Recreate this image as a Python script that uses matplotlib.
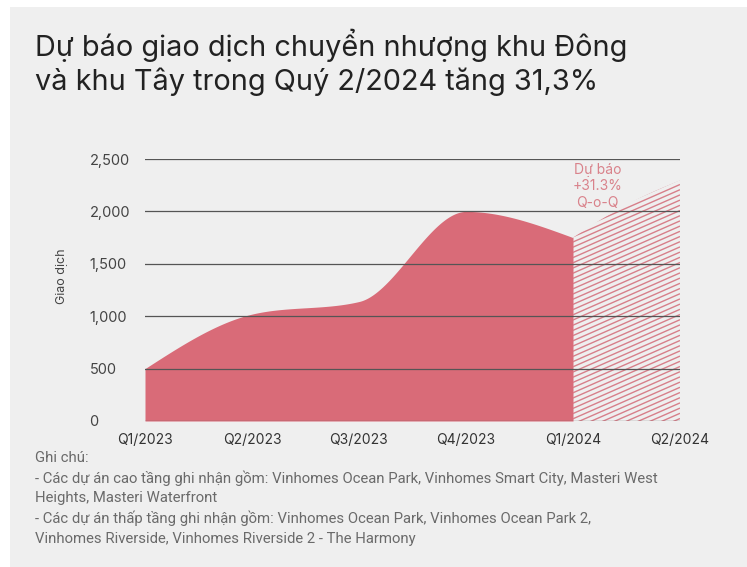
import numpy as np
import matplotlib
matplotlib.use("Agg")
import matplotlib.pyplot as plt
from matplotlib.patches import Rectangle, Polygon
from matplotlib.collections import LineCollection

quarters = ["Q1/2023", "Q2/2023", "Q3/2023", "Q4/2023", "Q1/2024", "Q2/2024"]
actual = [500, 1020, 1140, 2000, 1750]
forecast = [1750, 2295]
y_ticks = [0, 500, 1000, 1500, 2000, 2500]
y_tick_labels = ["0", "500", "1,000", "1,500", "2,000", "2,500"]

title = "Dự báo giao dịch chuyển nhượng khu Đông\nvà khu Tây trong Quý 2/2024 tăng 31,3%"
notes = [
    "Ghi chú:",
    "- Các dự án cao tầng ghi nhận gồm: Vinhomes Ocean Park, Vinhomes Smart City, Masteri West",
    "Heights, Masteri Waterfront",
    "- Các dự án thấp tầng ghi nhận gồm: Vinhomes Ocean Park, Vinhomes Ocean Park 2,",
    "Vinhomes Riverside, Vinhomes Riverside 2 - The Harmony",
]

BG = "#efefef"
PINK = "#d96b78"
HATCH = "#d77f8a"


def monotone(x, y, xs):
    # monotone cubic like d3.curveMonotoneX, no overshoot at the peak
    x = np.asarray(x, float)
    y = np.asarray(y, float)
    h = np.diff(x)
    d = np.diff(y) / h
    m = np.zeros_like(y)
    for k in range(1, len(y) - 1):
        p = (d[k - 1] * h[k] + d[k] * h[k - 1]) / (h[k - 1] + h[k])
        m[k] = (np.sign(d[k - 1]) + np.sign(d[k])) * min(abs(d[k - 1]), abs(d[k]), 0.5 * abs(p))
    m[0] = (3 * d[0] - m[1]) / 2
    m[-1] = (3 * d[-1] - m[-2]) / 2
    idx = np.clip(np.searchsorted(x, xs) - 1, 0, len(x) - 2)
    t = (xs - x[idx]) / h[idx]
    h00 = 2 * t**3 - 3 * t**2 + 1
    h10 = t**3 - 2 * t**2 + t
    h01 = -2 * t**3 + 3 * t**2
    h11 = t**3 - t**2
    return (h00 * y[idx] + h10 * h[idx] * m[idx]
            + h01 * y[idx + 1] + h11 * h[idx] * m[idx + 1])


fig = plt.figure(figsize=(7.47, 5.67), dpi=100)
fig.patch.set_facecolor("white")
fig.patches.append(Rectangle((10 / 747, 0), 1, 1 - 7 / 567,
                             transform=fig.transFigure, facecolor=BG,
                             edgecolor="none", zorder=-10))

ax = fig.add_axes([145 / 747, 1 - 421 / 567, 535 / 747, 262 / 567])
ax.set_facecolor("none")

xa = np.arange(len(actual))
xs = np.linspace(0, len(actual) - 1, 400)
ax.fill_between(xs, 0, monotone(xa, actual, xs), color=PINK, lw=0, zorder=1)

# forecast segment, hatched by hand so the slant matches
xf = np.array([len(actual) - 1, len(actual)], float)
xfs = np.linspace(xf[0], xf[1], 100)
yfs = forecast[0] + (forecast[1] - forecast[0]) * (xfs - xf[0]) + 40 * np.sin(np.pi * (xfs - xf[0]))
poly = Polygon(np.column_stack([np.r_[xfs, xf[1], xf[0]], np.r_[yfs, 0, 0]]),
               closed=True, facecolor="none", edgecolor="none")
ax.add_patch(poly)
slope = 0.44 * 535 / 262
segs = [[(0, c), (1, c + slope)] for c in np.arange(-slope - 0.05, 1.05, 5.2 / 262)]
lc = LineCollection(segs, colors=HATCH, linewidths=1.0, transform=ax.transAxes, zorder=1)
lc.set_clip_path(poly)
ax.add_collection(lc)

for v in y_ticks:
    ax.axhline(v, color="#555555", lw=0.9, zorder=2)

ax.set_xlim(0, len(quarters) - 1)
ax.set_ylim(0, 2500)
ax.set_xticks(range(len(quarters)))
ax.set_xticklabels(quarters, fontsize=10, color="#333333", family="Inter")
ax.set_yticks(y_ticks)
ax.set_yticklabels(y_tick_labels, fontsize=10.5, color="#444444", family="Inter", ha="left")
ax.tick_params(axis="y", length=0, pad=40)
ax.tick_params(axis="x", length=0, pad=9)
for s in ax.spines.values():
    s.set_visible(False)

fig.text(62 / 747, 1 - 276 / 567, "Giao dịch", rotation=90, fontsize=9,
         color="#444444", family="Inter", ha="center", va="center")

ax.text(4.23, 2460, "Dự báo\n+31.3%\nQ-o-Q", ha="center", va="top", fontsize=10,
        color="#d9828b", family="Inter", linespacing=1.2)

fig.text(35 / 747, 1 - 29 / 567, title, fontsize=20.8, color="#222222",
         family="Inter", ha="left", va="top", linespacing=1.22)

for i, line in enumerate(notes):
    fig.text(35 / 747, 1 - (458 + 20.2 * i) / 567, line, fontsize=10.7,
             color="#6a6a6a", family="Roboto", ha="left", va="center")

fig.savefig("out.png", dpi=100, facecolor=fig.get_facecolor())
